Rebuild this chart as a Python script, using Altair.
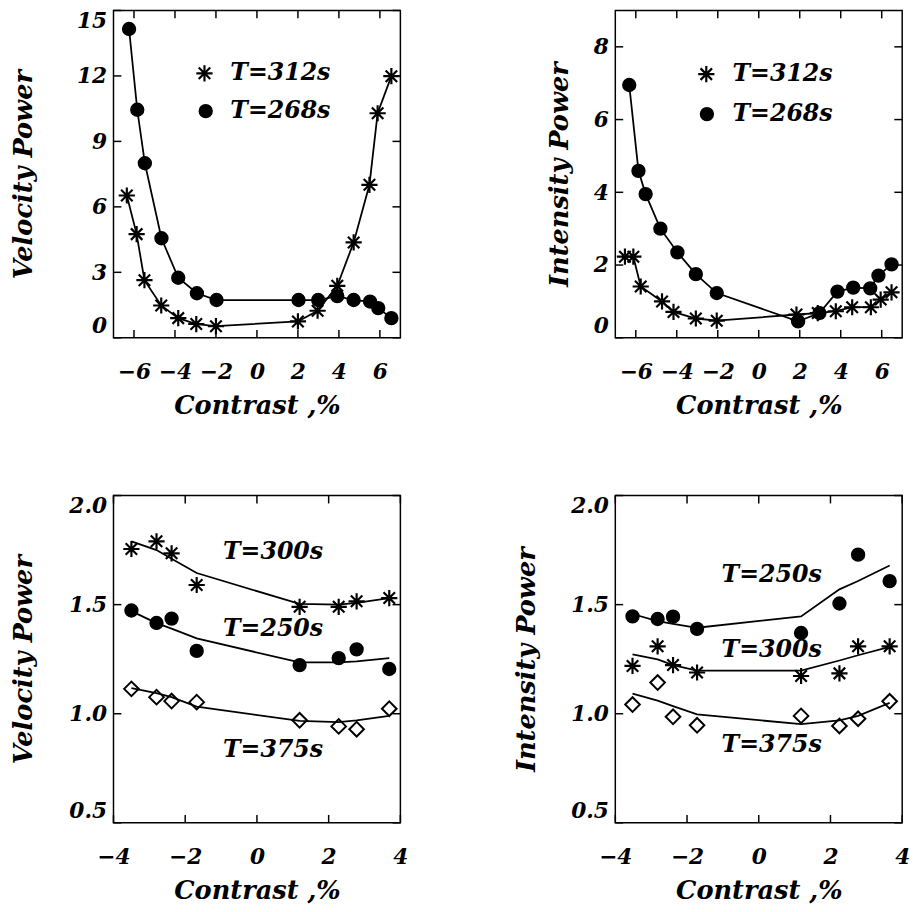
import altair as alt
import pandas as pd

FONT = "DejaVu Serif"
STAR = "M0,-1L0,1M-1,0L1,0M-0.71,-0.71L0.71,0.71M-0.71,0.71L0.71,-0.71"
W, H = 291, 332

# ---------------- data ----------------
# top-left: Velocity Power
tl_c_x = [-6.24, -5.84, -5.47, -4.66, -3.84, -2.93, -1.97, 2.03, 2.99, 3.92, 4.72, 5.52, 5.92, 6.56]
tl_c_y = [14.15, 10.45, 8.0, 4.56, 2.75, 2.04, 1.73, 1.73, 1.73, 1.91, 1.73, 1.66, 1.36, 0.90]
tl_s_x = [-6.35, -5.87, -5.49, -4.67, -3.84, -2.96, -2.0, 2.0, 2.96, 3.92, 4.72, 5.49, 5.89, 6.56]
tl_s_y = [6.52, 4.75, 2.64, 1.48, 0.90, 0.63, 0.53, 0.75, 1.24, 2.38, 4.37, 7.01, 10.29, 11.99]
tl_key_x = [-2.56, -2.50]      # key symbols (T=312s, T=268s)
tl_key_y = [12.12, 10.39]
tl_key_tx = [-1.30, -1.30]

# top-right: Intensity Power
tr_c_x = [-6.32, -5.87, -5.52, -4.8, -3.97, -3.07, -2.05, 1.92, 2.96, 3.84, 4.61, 5.44, 5.84, 6.48]
tr_c_y = [6.95, 4.59, 3.95, 3.0, 2.35, 1.75, 1.23, 0.45, 0.68, 1.27, 1.38, 1.36, 1.71, 2.02]
tr_s_x = [-6.53, -6.12, -5.76, -4.72, -4.16, -3.07, -2.05, 1.84, 2.88, 3.76, 4.56, 5.47, 5.95, 6.48]
tr_s_y = [2.23, 2.23, 1.41, 1.0, 0.71, 0.53, 0.47, 0.64, 0.68, 0.73, 0.84, 0.84, 1.05, 1.25]
tr_key_x = [-2.56, -2.53]
tr_key_y = [7.25, 6.15]
tr_key_tx = [-1.28, -1.28]

top_series = ["T=312s", "T=268s"]

# bottom-left: Velocity Power
bl_x = [-3.5, -2.8, -2.38, -1.68, 1.19, 2.28, 2.78, 3.69]
bl_300 = [1.755, 1.79, 1.735, 1.59, 1.49, 1.49, 1.515, 1.53]
bl_300_fit = [1.79, 1.75, 1.71, 1.645, 1.503, 1.50, 1.508, 1.53]
bl_250 = [1.473, 1.416, 1.436, 1.288, 1.223, 1.255, 1.295, 1.205]
bl_250_fit = [1.47, 1.415, 1.39, 1.345, 1.235, 1.235, 1.24, 1.255]
bl_375 = [1.114, 1.076, 1.058, 1.053, 0.97, 0.942, 0.929, 1.023]
bl_375_fit = [1.117, 1.094, 1.076, 1.033, 0.967, 0.962, 0.97, 0.99]
bl_lab_x = [0.45, 0.45, 0.45]          # T=300s, T=250s, T=375s
bl_lab_y = [1.742, 1.386, 0.833]

# bottom-right: Intensity Power
br_x = [-3.52, -2.82, -2.39, -1.72, 1.18, 2.25, 2.77, 3.65]
br_250 = [1.446, 1.434, 1.445, 1.389, 1.37, 1.505, 1.729, 1.608]
br_250_fit = [1.457, 1.424, 1.412, 1.394, 1.446, 1.57, 1.608, 1.679]
br_300 = [1.219, 1.309, 1.223, 1.189, 1.173, 1.185, 1.309, 1.309]
br_300_fit = [1.272, 1.249, 1.223, 1.198, 1.198, 1.244, 1.268, 1.306]
br_375 = [1.042, 1.143, 0.986, 0.947, 0.990, 0.944, 0.977, 1.057]
br_375_fit = [1.092, 1.06, 1.035, 0.997, 0.952, 0.97, 0.99, 1.05]
br_lab_x = [0.36, 0.36, 0.36]          # T=300s, T=250s, T=375s
br_lab_y = [1.29, 1.635, 0.854]

bottom_series = ["T=300s", "T=250s", "T=375s"]

top_xticks = [-6, -4, -2, 0, 2, 4, 6]
tl_yticks = [0, 3, 6, 9, 12, 15]
tr_yticks = [0, 2, 4, 6, 8]
bot_xticks = [-4, -2, 0, 2, 4]
bot_yticks = [0.5, 1.0, 1.5, 2.0]

# marker styles
STAR_STYLE = dict(shape=STAR, size=270, filled=False, stroke="black", strokeWidth=2.2)
DOT_STYLE = dict(shape="circle", size=170, filled=True, fill="black", stroke="black", strokeWidth=1.5)
DIAM_STYLE = dict(shape="diamond", size=220, filled=False, stroke="black", strokeWidth=2)

TXT = dict(font=FONT, fontSize=24, fontStyle="italic", fontWeight="bold", color="black")


def xaxis(values, fmt="d"):
    return alt.Axis(title="Contrast ,%", values=values, format=fmt, labelFlush=False,
                    labelOverlap=False, labelPadding=24, titlePadding=11,
                    ticks=False, domain=False, grid=False)


def yaxis(title, values, fmt, tx):
    return alt.Axis(title=title, values=values, format=fmt, labelFlush=True,
                    labelOverlap=False, labelPadding=7, titleX=tx,
                    ticks=False, domain=False, grid=False)


def tick_layers(xticks, yticks, xs, ys, xax, yax):
    xt = pd.DataFrame({"x": xticks})
    yt = pd.DataFrame({"y": yticks})
    L = 8
    def vt(off):
        return alt.Chart(xt).mark_tick(orient="vertical", size=L, thickness=1.5,
                                       color="black", opacity=1, yOffset=off)
    def ht(off):
        return alt.Chart(yt).mark_tick(orient="horizontal", size=L, thickness=1.5,
                                       color="black", opacity=1, xOffset=off)
    return [
        vt(-L / 2).encode(x=alt.X("x:Q", scale=xs, axis=xax), y=alt.value(H)),
        vt(L / 2).encode(x=alt.X("x:Q", scale=xs, axis=xax), y=alt.value(0)),
        ht(L / 2).encode(y=alt.Y("y:Q", scale=ys, axis=yax), x=alt.value(0)),
        ht(-L / 2).encode(y=alt.Y("y:Q", scale=ys, axis=yax), x=alt.value(W)),
    ]


def pts_layer(x, y, style, xs, ys, xax, yax):
    d = pd.DataFrame({"x": x, "y": y})
    return alt.Chart(d).mark_point(opacity=1, **style).encode(
        x=alt.X("x:Q", scale=xs, axis=xax),
        y=alt.Y("y:Q", scale=ys, axis=yax),
    )


def line_layer(x, y, xs, ys, xax, yax):
    d = pd.DataFrame({"x": x, "y": y})
    return alt.Chart(d).mark_line(color="black", strokeWidth=1.8).encode(
        x=alt.X("x:Q", scale=xs, axis=xax),
        y=alt.Y("y:Q", scale=ys, axis=yax),
    )


def text_layer(x, y, labels, align, xs, ys, xax, yax):
    d = pd.DataFrame({"x": x, "y": y, "label": labels})
    return alt.Chart(d).mark_text(align=align, baseline="middle", **TXT).encode(
        x=alt.X("x:Q", scale=xs, axis=xax),
        y=alt.Y("y:Q", scale=ys, axis=yax),
        text="label:N",
    )


def top_panel(cx, cy, sx, sy, kx, ky, ktx, ytitle, yticks, ydom, tx):
    xs = alt.Scale(domain=[-7, 7], nice=False, zero=False)
    ys = alt.Scale(domain=ydom, nice=False, zero=False)
    xax = xaxis(top_xticks)
    yax = yaxis(ytitle, yticks, "d", tx)
    layers = [
        line_layer(sx, sy, xs, ys, xax, yax),
        line_layer(cx, cy, xs, ys, xax, yax),
        pts_layer(sx, sy, STAR_STYLE, xs, ys, xax, yax),
        pts_layer(cx, cy, DOT_STYLE, xs, ys, xax, yax),
        pts_layer(kx[:1], ky[:1], STAR_STYLE, xs, ys, xax, yax),
        pts_layer(kx[1:], ky[1:], DOT_STYLE, xs, ys, xax, yax),
        text_layer(ktx, ky, top_series, "left", xs, ys, xax, yax),
    ]
    return alt.layer(*layers, *tick_layers(top_xticks, yticks, xs, ys, xax, yax)).properties(
        width=W, height=H)


def bottom_panel(xv, s300, f300, s250, f250, s375, f375, ytitle, tx, lab_x, lab_y):
    xs = alt.Scale(domain=[-4, 4], nice=False, zero=False)
    ys = alt.Scale(domain=[0.5, 2.0], nice=False, zero=False)
    xax = xaxis(bot_xticks)
    yax = yaxis(ytitle, bot_yticks, ".1f", tx)
    layers = [
        line_layer(xv, f300, xs, ys, xax, yax),
        line_layer(xv, f250, xs, ys, xax, yax),
        line_layer(xv, f375, xs, ys, xax, yax),
        pts_layer(xv, s300, STAR_STYLE, xs, ys, xax, yax),
        pts_layer(xv, s250, DOT_STYLE, xs, ys, xax, yax),
        pts_layer(xv, s375, DIAM_STYLE, xs, ys, xax, yax),
        text_layer(lab_x, lab_y, bottom_series, "center", xs, ys, xax, yax),
    ]
    return alt.layer(*layers, *tick_layers(bot_xticks, bot_yticks, xs, ys, xax, yax)).properties(
        width=W, height=H)


tl = top_panel(tl_c_x, tl_c_y, tl_s_x, tl_s_y, tl_key_x, tl_key_y, tl_key_tx,
               "Velocity Power", tl_yticks, [0, 15], -78)
tr = top_panel(tr_c_x, tr_c_y, tr_s_x, tr_s_y, tr_key_x, tr_key_y, tr_key_tx,
               "Intensity Power", tr_yticks, [0, 9], -43)
bl = bottom_panel(bl_x, bl_300, bl_300_fit, bl_250, bl_250_fit, bl_375, bl_375_fit,
                  "Velocity Power", -78, bl_lab_x, bl_lab_y)
br = bottom_panel(br_x, br_300, br_300_fit, br_250, br_250_fit, br_375, br_375_fit,
                  "Intensity Power", -77, br_lab_x, br_lab_y)

chart = alt.concat(tl, tr, bl, br, columns=2, spacing={"row": 160, "column": 218},
                   bounds="flush").properties(
    padding={"left": 2, "top": -6, "right": 5, "bottom": 5},
    background="white",
).configure_view(
    stroke="black", strokeWidth=1.5
).configure_axis(
    labelFont=FONT, labelFontSize=22, labelFontStyle="italic", labelFontWeight="bold",
    labelColor="black", titleFont=FONT, titleFontSize=26, titleFontStyle="italic",
    titleFontWeight="bold", titleColor="black",
)

chart.save("out.html", embed_options={"renderer": "svg", "actions": False})
